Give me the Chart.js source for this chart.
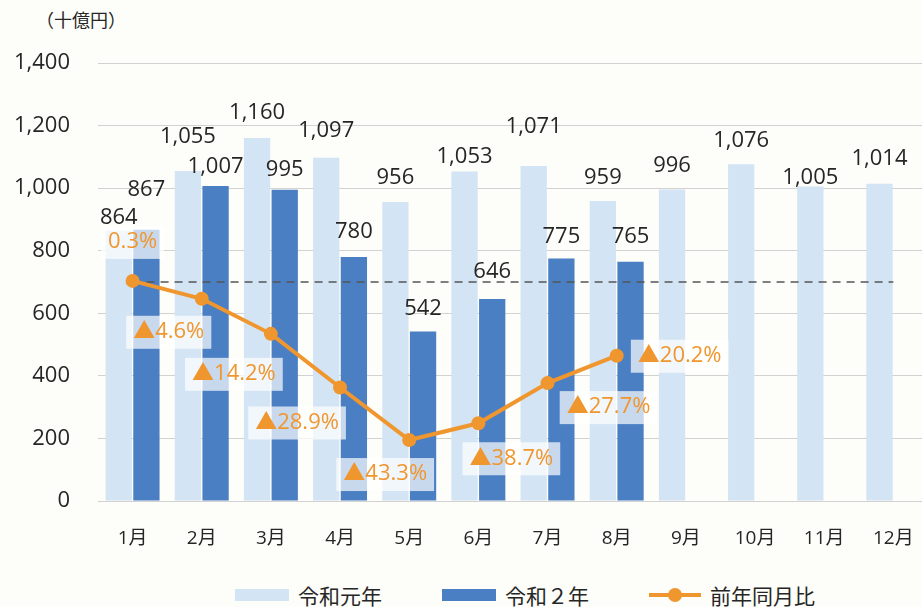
<!DOCTYPE html>
<html lang="ja">
<head>
<meta charset="utf-8">
<script src="https://cdn.jsdelivr.net/npm/chart.js@4.4.1/dist/chart.umd.min.js"></script>
<style>
  html, body { margin: 0; padding: 0; background: #fdfdf9; overflow: hidden; }
  body { width: 922px; height: 607px; position: relative; color: #262626;
         font-family: "Open Sans", "Noto Sans CJK JP", sans-serif; }
  #wrap { position: absolute; left: 0; top: 0; width: 940px; height: 547px; }
  #unit { position: absolute; left: 36px; top: 6px; font-size: 18px;
          font-family: "Noto Sans CJK JP", sans-serif; }
  #legend { position: absolute; left: 235px; top: 580px; display: flex; align-items: center;
            font-family: "Noto Sans CJK JP", sans-serif; font-size: 21px; }
  .item { display: flex; align-items: center; margin-right: 60px; }
  .sw { width: 54px; height: 12px; margin-right: 9px; }
  .ln { width: 52px; height: 4px; margin-right: 9px; background: #f0962e; position: relative; }
  .ln::after { content: ""; position: absolute; left: 19px; top: -5px; width: 14px; height: 14px;
               border-radius: 50%; background: #f0962e; }
</style>
</head>
<body>
<div id="unit">（十億円）</div>
<div id="wrap"><canvas id="chart"></canvas></div>
<div id="legend">
  <div class="item"><span class="sw" style="background:#d3e4f4"></span>令和元年</div>
  <div class="item"><span class="sw" style="background:#4a7fc4"></span>令和２年</div>
  <div class="item"><span class="ln"></span>前年同月比</div>
</div>
<script>
const meses = ['1月', '2月', '3月', '4月', '5月', '6月', '7月', '8月', '9月', '10月', '11月', '12月'];
const reiwa1 = [864, 1055, 1160, 1097, 956, 1053, 1071, 959, 996, 1076, 1005, 1014];
const reiwa2 = [867, 1007, 995, 780, 542, 646, 775, 765];
const yoy = [0.3, -4.6, -14.2, -28.9, -43.3, -38.7, -27.7, -20.2];
const zeroLine = [0, 0, 0, 0, 0, 0, 0, 0, 0, 0, 0, 0];

// how far above the bar top each label sits (px), as placed in the original
const lift1 = [13, 34, 25, 27, 24, 15, 39, 23, 24, 24, 9, 25];
const lift2 = [40, 19, 20, 25, 23, 27, 22, 25];
// label offset from each line point (px)
const pctPos = [[0, -39], [-33, 33], [-37, 40], [-43, 35], [-24, 34], [33, 35], [61, 24], [63, 0]];

const naranja = '#f0962e';

const etiquetas = {
    id: 'etiquetas',
    afterDatasetsDraw(chart) {
        const ctx = chart.ctx;
        ctx.save();
        ctx.font = '22px "Open Sans"';
        ctx.textAlign = 'center';
        ctx.textBaseline = 'middle';
        ctx.fillStyle = '#262626';
        chart.getDatasetMeta(0).data.forEach((bar, i) => {
            ctx.fillText(reiwa1[i].toLocaleString('en-US'), bar.x, bar.y - lift1[i]);
        });
        chart.getDatasetMeta(1).data.forEach((bar, i) => {
            ctx.fillText(reiwa2[i].toLocaleString('en-US'), bar.x, bar.y - lift2[i]);
        });

        ctx.font = '22px "Open Sans", "Noto Sans CJK JP"';
        chart.getDatasetMeta(2).data.forEach((pt, i) => {
            const v = yoy[i];
            const txt = (v < 0 ? '▲' : '') + Math.abs(v).toFixed(1) + '%';
            const w = ctx.measureText(txt).width;
            const cx = pt.x + pctPos[i][0];
            const cy = pt.y + pctPos[i][1];
            ctx.fillStyle = 'rgba(255,255,255,0.7)';
            ctx.fillRect(cx - w / 2 - 7, cy - 16, w + 14, 33);
            ctx.fillStyle = naranja;
            ctx.fillText(txt, cx, cy);
        });
        ctx.restore();
    }
};

new Chart(document.getElementById('chart'), {
    data: {
        labels: meses,
        datasets: [{
            type: 'bar',
            label: '令和元年',
            data: reiwa1,
            backgroundColor: '#d3e4f4',
            categoryPercentage: 0.8,
            barPercentage: 0.95,
            order: 2
        }, {
            type: 'bar',
            label: '令和２年',
            data: reiwa2,
            backgroundColor: '#4a7fc4',
            categoryPercentage: 0.8,
            barPercentage: 0.95,
            order: 2
        }, {
            type: 'line',
            label: '前年同月比',
            data: yoy,
            yAxisID: 'y2',
            borderColor: naranja,
            backgroundColor: naranja,
            borderWidth: 4,
            pointRadius: 7,
            pointBorderWidth: 0,
            order: 0
        }, {
            type: 'line',
            label: '0%',
            data: zeroLine,
            yAxisID: 'y2',
            borderColor: '#555',
            borderWidth: 1.5,
            borderDash: [8, 6],
            pointRadius: 0,
            order: 1
        }]
    },
    options: {
        responsive: true,
        maintainAspectRatio: false,
        animation: false,
        layout: { padding: { top: 63, right: 2, left: 0, bottom: 0 } },
        plugins: {
            legend: { display: false },
            tooltip: { enabled: false }
        },
        scales: {
            x: {
                grid: { display: false, drawTicks: false },
                border: { display: false },
                ticks: { color: '#262626', padding: 26, maxRotation: 0, font: { family: '"Open Sans", "Noto Sans CJK JP"', size: 19 } },
                afterFit(scale) { scale.height = 46; }
            },
            y: {
                min: 0,
                max: 1400,
                ticks: {
                    stepSize: 200,
                    padding: 28,
                    color: '#262626',
                    font: { family: '"Open Sans"', size: 22 },
                    callback: v => v.toLocaleString('en-US')
                },
                grid: { color: '#d2d2d2', lineWidth: 1, drawTicks: false },
                border: { display: false },
                afterFit(scale) { scale.width = 98; }
            },
            y2: {
                display: false,
                min: -60,
                max: 60
            }
        }
    },
    plugins: [etiquetas]
});
</script>
</body>
</html>
